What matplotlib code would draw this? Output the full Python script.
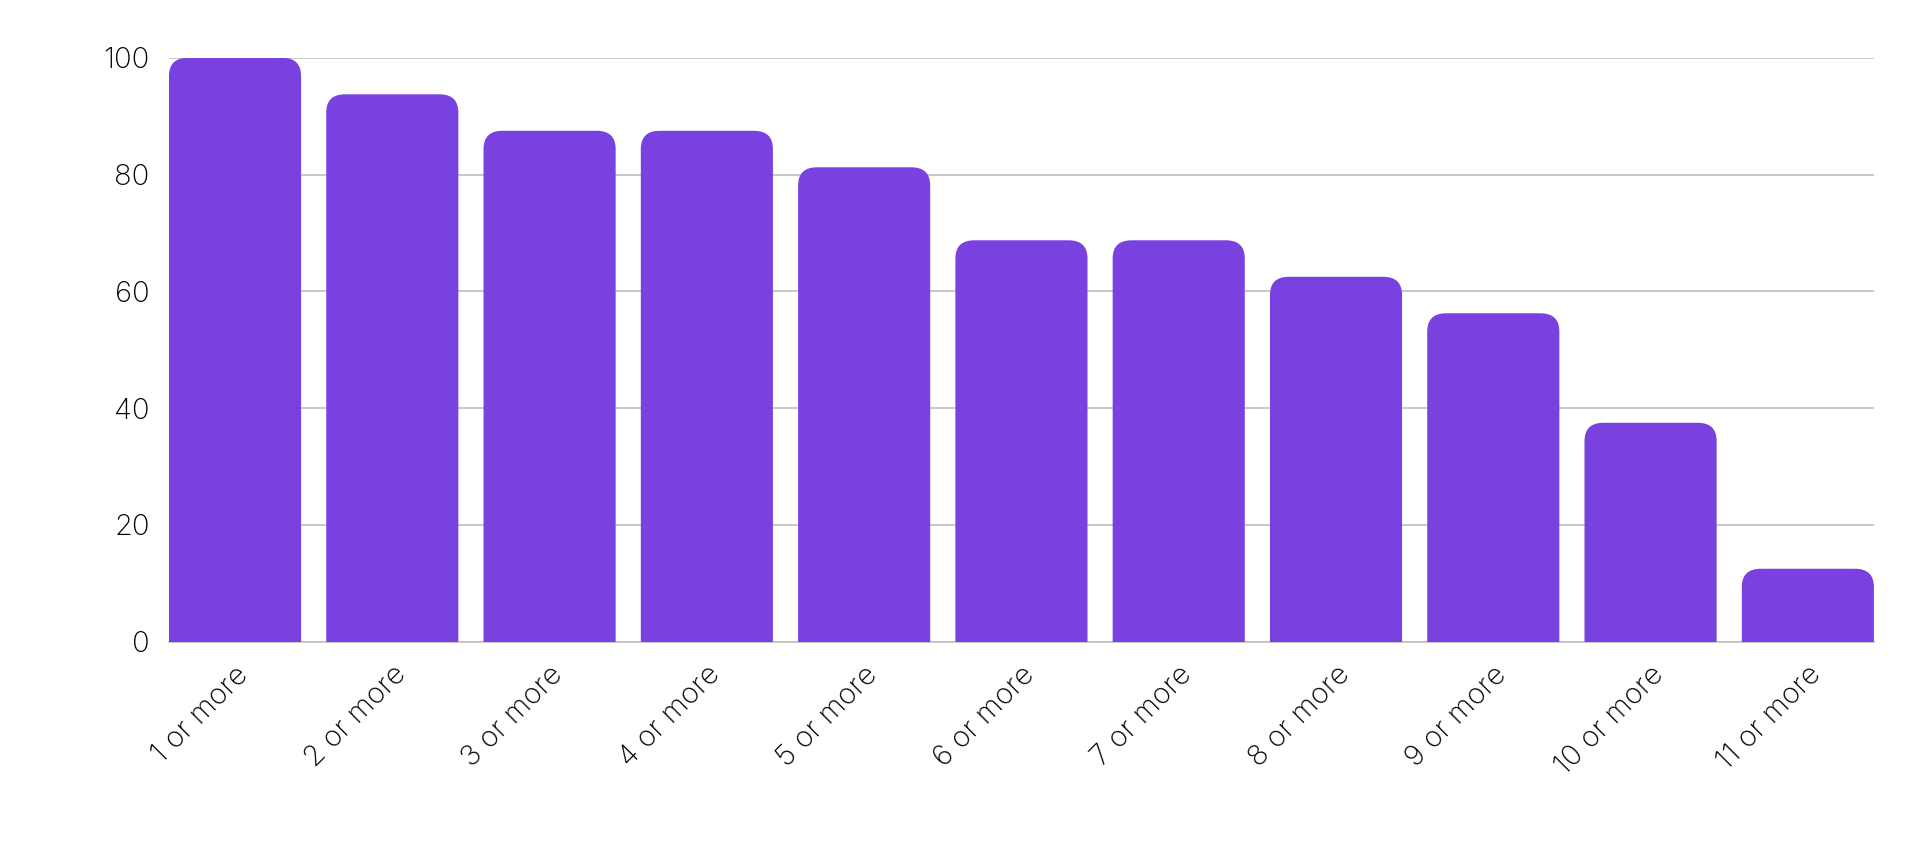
import matplotlib
matplotlib.use("Agg")
import matplotlib.pyplot as plt
from matplotlib.patches import FancyBboxPatch

# data
categories = [f"{i} or more" for i in range(1, 12)]
values = [100, 93.75, 87.5, 87.5, 81.25, 68.75, 68.75, 62.5, 56.25, 37.5, 12.5]
yticks = [0, 20, 40, 60, 80, 100]

plt.rcParams['font.family'] = ['Inter', 'DejaVu Sans']

fig = plt.figure(figsize=(19.2, 8.5), dpi=100)
ax = fig.add_axes([0.088, 0.245, 0.888, 0.687])

bar_color = "#7841E0"
width = 0.84
for i, v in enumerate(values):
    box = FancyBboxPatch((i - width / 2, -6), width, v + 6,
                         boxstyle="round,pad=0,rounding_size=0.12",
                         mutation_aspect=26, facecolor=bar_color,
                         edgecolor="none", zorder=3, clip_on=True)
    ax.add_patch(box)

ax.set_xlim(-0.5 + (1 - width) / 2, len(values) - 0.5 - (1 - width) / 2)
ax.set_ylim(0, 100)
ax.set_yticks(yticks)
ax.set_xticks(range(len(values)))
ax.set_xticklabels(categories, rotation=45, ha="right", rotation_mode="anchor",
                   fontsize=21, fontweight="light")
for lab in ax.get_yticklabels():
    lab.set_fontsize(21)
    lab.set_fontweight("light")
ax.grid(axis="y", color="#c4c4c4", linewidth=1.3, zorder=0)
ax.tick_params(length=0, pad=14)
for s in ["top", "right", "left"]:
    ax.spines[s].set_visible(False)
ax.spines["bottom"].set_color("#c4c4c4")
ax.spines["bottom"].set_linewidth(1.3)

fig.savefig("out.png", dpi=100)
